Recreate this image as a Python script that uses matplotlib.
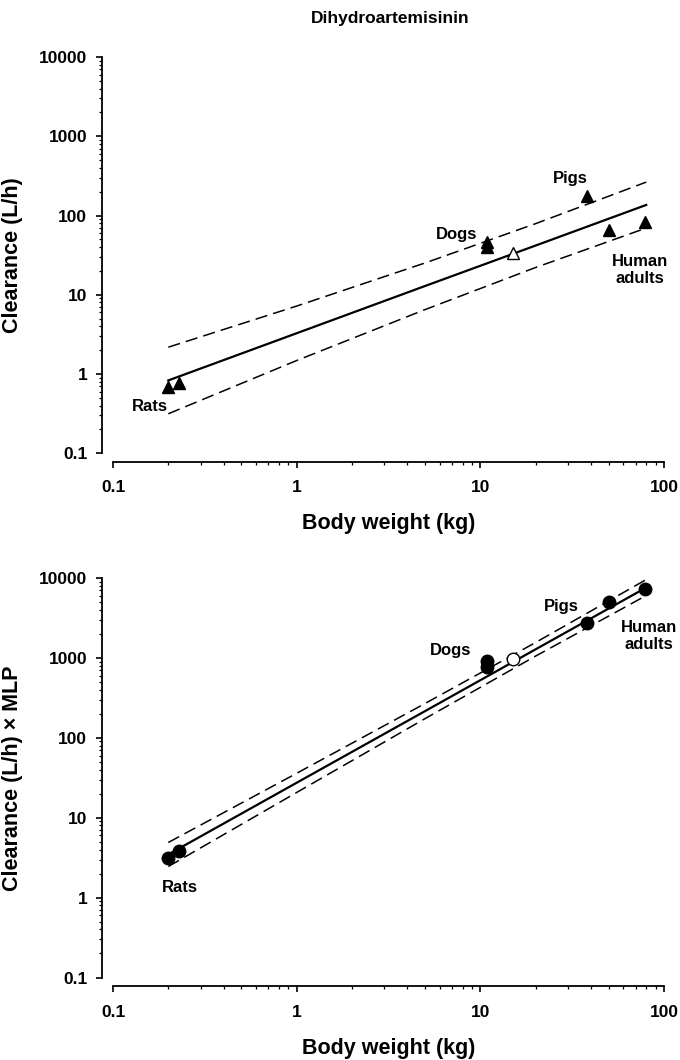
import matplotlib.pyplot as plt
from matplotlib.ticker import LogLocator, NullFormatter

plt.rcParams['font.family'] = ['Liberation Sans', 'DejaVu Sans']
plt.rcParams['font.weight'] = 'bold'

# body weight (kg) of the species used for the allometric fit
weight = [0.2, 0.23, 10.9, 10.9, 38, 50, 79]
# clearance (L/h)
clearance = [0.68, 0.78, 46, 40, 174, 66, 84]
# clearance x MLP
clearance_mlp = [3.1, 3.87, 922, 762, 2710, 4970, 7280]

# predicted value (open symbol)
pred_weight = 15.1
pred_clearance = 34
pred_clearance_mlp = 960

# fitted line and dashed bands
fit_weight = [0.2, 1, 5, 20, 80]
fit_cl = [0.83, 3.27, 12.9, 41.8, 136]
fit_cl_upper = [2.18, 7.2, 25.2, 79, 264]
fit_cl_lower = [0.315, 1.48, 6.5, 22.1, 69.5]
fit_mlp = [3.47, 27.4, 216, 1282, 7600]
fit_mlp_upper = [4.9, 36, 269, 1560, 9570]
fit_mlp_lower = [2.45, 20.7, 174, 1055, 6040]

x_ticks = [0.1, 1, 10, 100]
x_ticklabels = ['0.1', '1', '10', '100']
y_ticks = [0.1, 1, 10, 100, 1000, 10000]
y_ticklabels = ['0.1', '1', '10', '100', '1000', '10000']

# species labels: (text, x, y)
labels_top = [('Pigs', 30.7, 297), ('Dogs', 7.4, 57),
              ('Human\nadults', 74, 20.6), ('Rats', 0.159, 0.387)]
labels_bottom = [('Pigs', 27.5, 4380), ('Dogs', 6.9, 1256),
                 ('Human\nadults', 83, 1880), ('Rats', 0.231, 1.35)]

fig = plt.figure(figsize=(6.8, 10.6), dpi=100)
ax1 = fig.add_axes([0.1662, 0.5724, 0.8103, 0.3738])
ax2 = fig.add_axes([0.1662, 0.0778, 0.8103, 0.3769])


def draw_panel(ax, y, y_pred, fit, upper, lower, marker, ms, ylabel, labels):
    ax.plot(fit_weight, fit, color='black', lw=1.6, zorder=2)
    ax.plot(fit_weight, upper, color='black', lw=1.1, ls=(0, (8, 4)), zorder=2)
    ax.plot(fit_weight, lower, color='black', lw=1.1, ls=(0, (8, 4)), zorder=2)
    ax.plot(weight, y, ls='none', marker=marker, ms=ms,
            mfc='black', mec='black', zorder=3)
    ax.plot([pred_weight], [y_pred], ls='none', marker=marker, ms=ms,
            mfc='white', mec='black', mew=1, zorder=3)

    for text, x, yy in labels:
        ax.text(x, yy, text, ha='center', va='center', fontsize=12,
                fontweight='bold', linespacing=1.15)

    ax.set_xscale('log')
    ax.set_yscale('log')
    ax.set_xlim(0.1, 100)
    ax.set_ylim(0.1, 10000)
    ax.set_xticks(x_ticks, x_ticklabels)
    ax.set_yticks(y_ticks, y_ticklabels)
    ax.xaxis.set_minor_locator(LogLocator(base=10, subs=range(2, 10)))
    ax.yaxis.set_minor_locator(LogLocator(base=10, subs=range(2, 10)))
    ax.xaxis.set_minor_formatter(NullFormatter())
    ax.yaxis.set_minor_formatter(NullFormatter())

    ax.spines['top'].set_visible(False)
    ax.spines['right'].set_visible(False)
    ax.spines['left'].set_position(('outward', 8))
    ax.spines['bottom'].set_position(('outward', 6))
    ax.spines['left'].set_linewidth(1.3)
    ax.spines['bottom'].set_linewidth(1.3)

    ax.tick_params(which='major', direction='out', length=4.5, width=1.2,
                   labelsize=12.5)
    ax.tick_params(which='minor', direction='out', length=2.5, width=0.9)
    ax.tick_params(axis='x', which='major', pad=9)
    ax.tick_params(axis='y', which='major', pad=6)

    ax.set_xlabel('Body weight (kg)', fontsize=15.5, fontweight='bold')
    ax.set_ylabel(ylabel, fontsize=15.5, fontweight='bold')
    ax.xaxis.set_label_coords(0.5, -0.151)
    ax.yaxis.set_label_coords(-0.163, 0.5)
    ax.patch.set_visible(False)


draw_panel(ax1, clearance, pred_clearance, fit_cl, fit_cl_upper, fit_cl_lower,
           '^', 8.5, 'Clearance (L/h)', labels_top)
draw_panel(ax2, clearance_mlp, pred_clearance_mlp, fit_mlp, fit_mlp_upper,
           fit_mlp_lower, 'o', 9, 'Clearance (L/h) × MLP', labels_bottom)

fig.text(0.574, 0.983, 'Dihydroartemisinin', ha='center', va='center',
         fontsize=12.5, fontweight='bold')

fig.savefig('out.png', dpi=100)
